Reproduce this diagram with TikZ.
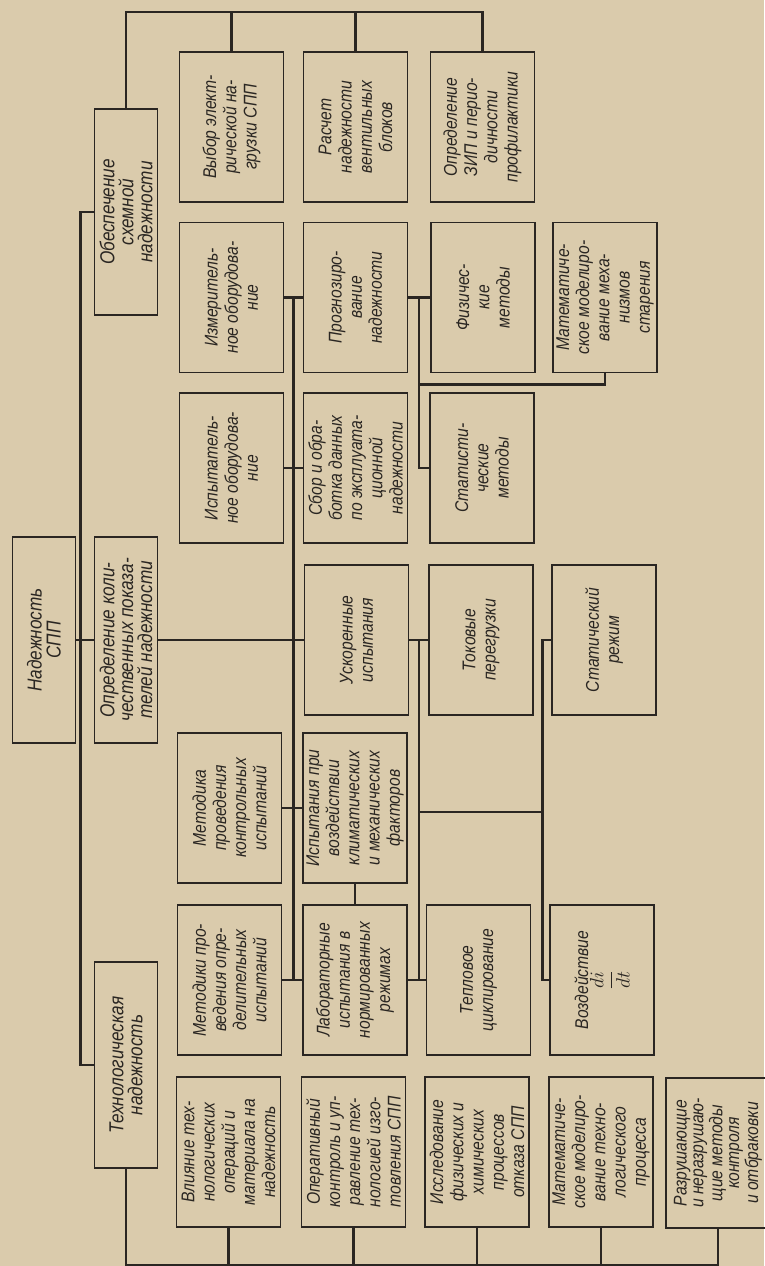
\documentclass[tikz,border=0pt]{standalone}
\usepackage{fontspec}
\setmainfont[FakeStretch=0.85]{Liberation Sans}
\usetikzlibrary{calc}
\definecolor{paper}{RGB}{218,203,172}
\definecolor{ink}{RGB}{42,38,34}

\begin{document}
\begin{tikzpicture}[x=0.02cm, y=-0.02cm,
    box/.style={draw=ink, line width=1pt, rotate=90, align=center, inner sep=1pt,
        minimum width=3cm, minimum height=2.08cm, text=ink,
        font=\itshape\fontsize{10.5}{11.5}\selectfont},
    wide/.style={box, minimum width=4.12cm, minimum height=1.26cm,
        font=\itshape\fontsize{11.5}{10.8}\selectfont},
    conn/.style={draw=ink, line width=1.3pt}]
    \useasboundingbox (0,0) rectangle (764,1266);
    \fill[paper] (0,0) rectangle (764,1266);

    \node[wide] (nadezh) at (44,640) {Надежность\\СПП};
    \node[wide] (shem) at (126,212) {Обеспечение\\схемной\\надежности};
    \node[wide] (kolich) at (126,640) {Определение коли-\\чественных показа-\\телей надежности};
    \node[wide] (tehnol) at (126,1065) {Технологическая\\надежность};

    \node[box] (vybor) at (231.5,127) {Выбор элект-\\рической на-\\грузки СПП};
    \node[box] (raschet) at (355.5,127) {Расчет\\надежности\\вентильных\\блоков};
    \node[box] (zip) at (482.5,127) {Определение\\ЗИП и перио-\\дичности\\профилактики};

    \node[box] (izmer) at (231.5,297.5) {Измеритель-\\ное оборудова-\\ние};
    \node[box] (prognoz) at (355.5,297.5) {Прогнозиро-\\вание\\надежности};
    \node[box] (fizich) at (483,297.5) {Физичес-\\кие\\методы};
    \node[box] (matstar) at (605,297.5) {Математиче-\\ское моделиро-\\вание меха-\\низмов\\старения};

    \node[box] (ispob) at (231.5,468) {Испытатель-\\ное оборудова-\\ние};
    \node[box] (sbor) at (355.5,468) {Сбор и обра-\\ботка данных\\по эксплуата-\\ционной\\надежности};
    \node[box] (statist) at (482,468) {Статисти-\\ческие\\методы};

    \node[box] (uskor) at (356.5,640) {Ускоренные\\испытания};
    \node[box] (tokov) at (481,640) {Токовые\\перегрузки};
    \node[box] (statrezh) at (604,640) {Статический\\режим};

    \node[box] (metkontr) at (229.5,808) {Методика\\проведения\\контрольных\\испытаний};
    \node[box] (klimat) at (355,808) {Испытания при\\воздействии\\климатических\\и механических\\факторов};

    \node[box] (metopr) at (229.5,980) {Методики про-\\ведения опре-\\делительных\\испытаний};
    \node[box] (labor) at (355,980) {Лабораторные\\испытания в\\нормированных\\режимах};
    \node[box] (teplo) at (478.5,980) {Тепловое\\циклирование};
    \node[box] (didt) at (602,980) {Воздействие\\$\displaystyle\frac{di}{dt}$};

    \node[box] (vliyan) at (228.5,1152) {Влияние тех-\\нологических\\операций и\\материала на\\надежность};
    \node[box] (operat) at (353.5,1152) {Оперативный\\контроль и уп-\\равление тех-\\нологией изго-\\товления СПП};
    \node[box] (issled) at (477,1152) {Исследование\\физических и\\химических\\процессов\\отказа СПП};
    \node[box] (matteh) at (601,1152) {Математиче-\\ское моделиро-\\вание техно-\\логического\\процесса};
    \node[box, font=\itshape\fontsize{10.5}{9.5}\selectfont] (razrush) at (718,1153) {Разрушающие\\и неразрушаю-\\щие методы\\контроля\\и отбраковки};

    \draw[conn] (shem.north) -- ++(-13,0) |- (tehnol.north);
    \draw[conn] (nadezh) -- (kolich);
    \draw[conn] (shem.east) -- ++(0,-96) coordinate (bus) -| (zip.east);
    \foreach \n in {vybor, raschet}
        \draw[conn] (\n.east) -- (\n.east |- bus);

    \draw[conn] (kolich) -- (uskor);
    \coordinate (v1) at ($(izmer.south)!0.5!(prognoz.north)$);
    \draw[conn] (v1) -- (v1 |- metopr);
    \draw[conn] (izmer) -- (prognoz);
    \draw[conn] (ispob) -- (sbor);
    \draw[conn] (metkontr) -- (klimat);
    \draw[conn] (metopr) -- (labor);
    \draw[conn] (klimat) -- (labor);

    \coordinate (v2) at ($(prognoz.south)!0.5!(fizich.north)$);
    \draw[conn] (prognoz) -- (fizich);
    \draw[conn] (v2) |- (statist.north);
    \draw[conn] ($(v2 |- fizich.west)+(0,11)$) -| (matstar.west);

    \coordinate (v3) at ($(uskor.south)!0.5!(tokov.north)$);
    \coordinate (v4) at ($(tokov.south)!0.5!(statrezh.north)$);
    \draw[conn] (uskor) -- (tokov);
    \draw[conn] (v3) -- (v3 |- teplo);
    \draw[conn] (labor) -- (teplo);
    \draw[conn] ($(v3 |- klimat)+(0,4)$) -- ($(v4 |- klimat)+(0,4)$);
    \draw[conn] (statrezh.north) -- (v4) -- (v4 |- didt) -- (didt.north);

    \draw[conn] (tehnol.west) -- ++(0,96) coordinate (bbus) -| (razrush.west);
    \foreach \n in {vliyan, operat, issled, matteh}
        \draw[conn] (\n.west) -- (\n.west |- bbus);
\end{tikzpicture}
\end{document}
